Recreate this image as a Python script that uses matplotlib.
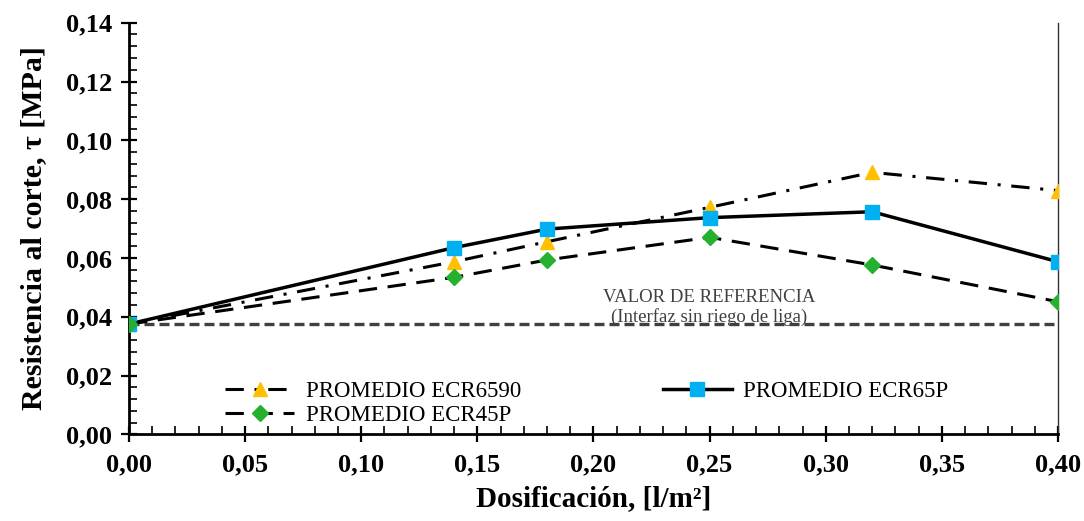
import matplotlib
matplotlib.use("Agg")
import matplotlib.pyplot as plt
from matplotlib.ticker import MultipleLocator, FuncFormatter

# Data
dosificacion = [0.00, 0.14, 0.18, 0.25, 0.32, 0.40]
ecr6590 = [0.0375, 0.0587, 0.0655, 0.0772, 0.0891, 0.0829]
ecr65p = [0.0375, 0.0635, 0.0698, 0.0737, 0.0757, 0.0587]
ecr45p = [0.0375, 0.0534, 0.0593, 0.0670, 0.0576, 0.0451]
referencia = 0.0375
x_ticks = [0.00, 0.05, 0.10, 0.15, 0.20, 0.25, 0.30, 0.35, 0.40]
y_ticks = [0.00, 0.02, 0.04, 0.06, 0.08, 0.10, 0.12, 0.14]

plt.rcParams['font.family'] = ['Liberation Serif', 'DejaVu Serif']

fig = plt.figure(figsize=(10.84, 5.21), dpi=100)
ax = fig.add_axes([0.119, 0.1664, 0.857, 0.790])

ax.axhline(referencia, color='#404040', lw=2.4, dashes=(3.0, 1.5), zorder=1)

l1, = ax.plot(dosificacion, ecr6590, color='black', lw=2.2, dashes=(6, 3.5, 1, 3.5),
              marker='^', markersize=10, markerfacecolor='#FFC000', markeredgecolor='#FFC000',
              label='PROMEDIO ECR6590', zorder=3)
l2, = ax.plot(dosificacion, ecr65p, color='black', lw=2.5, linestyle='-',
              marker='s', markersize=10.5, markerfacecolor='#00B0F0', markeredgecolor='#00B0F0',
              label='PROMEDIO ECR65P', zorder=4)
l3, = ax.plot(dosificacion, ecr45p, color='black', lw=2.2, dashes=(6, 3.5),
              marker='D', markersize=8.5, markerfacecolor='#25B030', markeredgecolor='#25B030',
              label='PROMEDIO ECR45P', zorder=5)

ax.text(0.25, 0.0465, 'VALOR DE REFERENCIA', ha='center', va='center',
        fontsize=13.5, color='#404040')
ax.text(0.25, 0.0399, '(Interfaz sin riego de liga)', ha='center', va='center',
        fontsize=13.5, color='#404040')

ax.set_xlim(0, 0.40)
ax.set_ylim(0, 0.14)
ax.set_xticks(x_ticks)
ax.set_yticks(y_ticks)
ax.xaxis.set_minor_locator(MultipleLocator(0.01))
ax.yaxis.set_minor_locator(MultipleLocator(0.004))
fmt = FuncFormatter(lambda v, p: f"{v:.2f}".replace('.', ','))
ax.xaxis.set_major_formatter(fmt)
ax.yaxis.set_major_formatter(fmt)

ax.tick_params(which='major', direction='inout', length=12, width=1.6, labelsize=19)
ax.tick_params(axis='x', which='major', pad=8)
ax.tick_params(axis='y', which='major', pad=6)
ax.tick_params(which='minor', direction='in', length=6, width=1.2)
ax.tick_params(axis='x', which='both', top=False)
ax.tick_params(axis='y', which='both', right=False)
for lab in ax.get_xticklabels() + ax.get_yticklabels():
    lab.set_fontweight('bold')

ax.spines['top'].set_visible(False)
ax.spines['right'].set_linewidth(1.0)
ax.spines['right'].set_color('#333333')
ax.spines['left'].set_linewidth(2.0)
ax.spines['bottom'].set_linewidth(2.0)

ax.set_xlabel('Dosificación, [l/m²]', fontsize=21, fontweight='bold', labelpad=6)
ax.set_ylabel('Resistencia al corte, τ [MPa]', fontsize=21.5, fontweight='bold', labelpad=14)

leg = ax.legend([l1, l3, l2], ['PROMEDIO ECR6590', 'PROMEDIO ECR45P', 'PROMEDIO ECR65P'],
                loc='lower left', bbox_to_anchor=(0.0865, -0.018), ncol=2, frameon=False,
                fontsize=16.5, handlelength=3.0, columnspacing=6.2, labelspacing=0.1,
                handletextpad=0.5, borderaxespad=0.3)

fig.savefig('out.png', dpi=100)
